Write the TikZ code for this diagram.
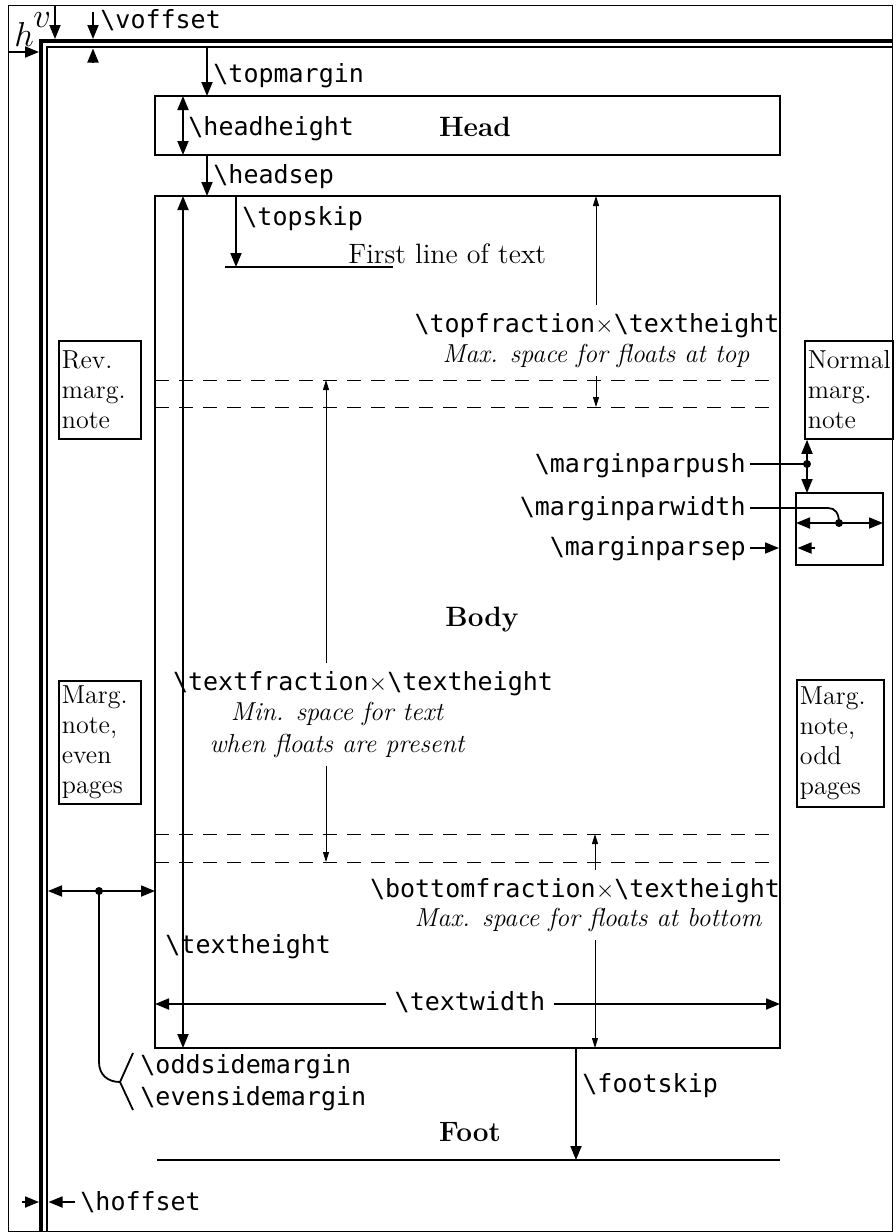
\documentclass[tikz,border=0pt]{standalone}
\usepackage{fontspec}
\setmonofont{DejaVu Sans Mono}
\usetikzlibrary{arrows.meta}
\tikzset{lw/.style={line width=0.9pt},
  arr/.style={lw,-{Triangle[length=7pt,width=5.5pt]}},
  darr/.style={lw,{Triangle[length=7pt,width=5.5pt]}-{Triangle[length=7pt,width=5.5pt]}},
  tarr/.style={line width=0.45pt,-{Triangle[length=5pt,width=3pt]}},
  dashln/.style={line width=0.45pt,dash pattern=on 7pt off 5pt},
  note/.style={draw,lw,align=left,inner sep=1.5pt,anchor=north west,font=\fontsize{13}{15}\selectfont},
  lab/.style={inner sep=2pt},
  bigtxt/.style={font=\fontsize{14}{16}\selectfont},
  boldtxt/.style={font=\fontsize{14}{16}\selectfont\bfseries},
  itl/.style={font=\fontsize{13}{15}\selectfont\itshape,inner sep=4pt}}
\newcommand\lycs[1]{\texttt{\textbackslash#1}}
\begin{document}
\begin{tikzpicture}[x=0.5pt,y=-0.5pt,font=\fontsize{12.5}{15}\selectfont]
\useasboundingbox (0,0) rectangle (895,1232);
% paper, origin and offset lines
\coordinate (pgtl) at (8,5);
\coordinate (pgbr) at (892,1231);
\coordinate (org) at (41,41);
\coordinate (ofs) at (47,47);
\draw[line width=0.5pt] (pgtl) rectangle (pgbr);
\draw[line width=1.8pt] (org |- pgbr) -- (org) -- (pgbr |- org);
\draw[line width=0.6pt] (ofs |- pgbr) -- (ofs) -- (pgbr |- ofs);
\coordinate (vin) at (55,5);
\coordinate (hin) at (8,52);
\draw[arr] (vin) -- ++(0,34);
\draw[arr] (hin) -- ++(31,0);
\node[inner sep=0pt,anchor=base west] (hlab) at (14,46) {\fontsize{16}{18}\selectfont$h$};
\node[inner sep=0pt,anchor=base west] (vlab) at (33,27) {\fontsize{16}{18}\selectfont$v$};
\coordinate (voa) at (93,12);
\coordinate (vob) at (93,62);
\draw[arr] (voa) -- (voa |- 0,39);
\draw[arr] (vob) -- (vob |- 0,48.5);
\node[lab,anchor=base west] (voff) at (96,28) {\lycs{voffset}};
\coordinate (hoa) at (22,1202);
\coordinate (hob) at (75,1202);
\draw[arr] (hoa) -- (39,1202);
\draw[arr] (hob) -- (48.5,1202);
\node[lab,anchor=base west] (hoff) at (76,1210) {\lycs{hoffset}};
% head
\coordinate (htl) at (155,96);
\coordinate (hbr) at (780,155);
\draw[lw] (htl) rectangle (hbr);
\node[boldtxt] (head) at (475,127) {Head};
\coordinate (tmx) at (207,0);
\draw[arr] (tmx |- ofs) -- (tmx |- htl);
\node[lab,anchor=base west] (topm) at (209,82) {\lycs{topmargin}};
\coordinate (hhx) at (183,0);
\draw[darr] (hhx |- htl) -- (hhx |- hbr);
\node[lab,anchor=base west] (hh) at (184,135) {\lycs{headheight}};
\draw[arr] (tmx |- hbr) -- (tmx |- 0,196);
\node[lab,anchor=base west] (hs) at (209,183) {\lycs{headsep}};
% body
\coordinate (btl) at (155,196);
\coordinate (bbr) at (780,1048);
\draw[lw] (btl) rectangle (bbr);
\node[boldtxt] (body) at (482,620) {Body};
\draw[darr] (hhx |- btl) -- (hhx |- bbr);
\node[lab,anchor=base west] (th) at (161,953) {\lycs{textheight}};
\coordinate (tsx) at (236,0);
\coordinate (fl) at (225,267);
\draw[arr] (tsx |- btl) -- (tsx |- fl);
\node[lab,anchor=base west] (ts) at (238,225) {\lycs{topskip}};
\draw[lw] (fl) -- (393,267);
\node[bigtxt,inner sep=2pt,anchor=base west] (first) at (344,263) {First line of text};
% float areas
\foreach \y in {380,407,834,862}
  \draw[dashln] (155,\y) -- (780,\y);
\node[inner sep=4pt,anchor=base] (tf) at (597,332) {\lycs{topfraction}${\times}$\lycs{textheight}};
\node[itl,anchor=base] (tfi) at (596,362) {Max. space for floats at top};
\coordinate (tfx) at (596,407);
\draw[tarr] (tf.north -| tfx) -- (tfx |- btl);
\draw[tarr] (tfi.south -| tfx) -- (tfx);
\node[inner sep=4pt,anchor=base] (xf) at (363,690) {\lycs{textfraction}${\times}$\lycs{textheight}};
\node[itl,inner sep=2pt,anchor=base] (xfi) at (337,720) {Min. space for text};
\node[itl,anchor=base] (xfj) at (337,752) {when floats are present};
\coordinate (xfx) at (326,380);
\draw[tarr] (xf.north -| xfx) -- (xfx);
\draw[tarr] (xfj.south -| xfx) -- (xfx |- 0,862);
\node[inner sep=4pt,anchor=base] (bf) at (575,897) {\lycs{bottomfraction}${\times}$\lycs{textheight}};
\node[itl,anchor=base] (bfi) at (588,926) {Max. space for floats at bottom};
\coordinate (bfx) at (595,834);
\draw[tarr] (bf.north -| bfx) -- (bfx);
\draw[tarr] (bfi.south -| bfx) -- (bfx |- bbr);
% text width
\node[lab,inner sep=4pt,anchor=base] (tw) at (470,1010) {\lycs{textwidth}};
\coordinate (twl) at (155,1004);
\coordinate (twr) at (780,1004);
\draw[arr] (tw.west |- twl) -- (twl);
\draw[arr] (tw.east |- twr) -- (twr);
% side margins
\coordinate (osl) at (48,891);
\coordinate (osd) at (99,891);
\draw[darr] (osl) -- (osl -| btl);
\fill (osd) circle (2pt);
\coordinate (brc) at (120,1082);
\draw[lw] (osd) -- (99,1062) .. controls (99,1075) and (108,1082) .. (brc);
\draw[lw] (133,1053) -- (brc) -- (133,1110);
\node[lab,anchor=base west] (odd) at (136,1073) {\lycs{oddsidemargin}};
\node[lab,anchor=base west] (even) at (136,1105) {\lycs{evensidemargin}};
% foot
\coordinate (fsx) at (576,1160);
\draw[arr] (fsx |- bbr) -- (fsx);
\draw[lw] (157,1160) -- (780,1160);
\node[lab,anchor=base west] (fs) at (578,1092) {\lycs{footskip}};
\node[boldtxt] (foot) at (470,1132) {Foot};
% marginal notes
\node[note,text width=38pt,minimum height=49pt] (revn) at (58,340) {Rev.\\marg.\\note};
\node[note,text width=38pt,minimum height=61.5pt] (evenn) at (58,680) {Marg.\\note,\\even\\pages};
\node[note,text width=41pt,minimum height=49pt] (normn) at (804,340) {Normal\\marg.\\note};
\node[note,text width=40.5pt,minimum height=63.5pt] (oddn) at (796,679) {Marg.\\note,\\odd\\pages};
\coordinate (mwtl) at (796,493);
\coordinate (mwbr) at (883,565);
\draw[lw] (mwtl) rectangle (mwbr);
\node[lab,anchor=base east] (mpp) at (750,472) {\lycs{marginparpush}};
\coordinate (mppd) at (807,464);
\draw[lw] (mpp.east |- mppd) -- (mppd);
\draw[darr] (mppd |- normn.south) -- (mppd |- mwtl);
\fill (mppd) circle (2pt);
\node[lab,anchor=base east] (mpw) at (750,515) {\lycs{marginparwidth}};
\coordinate (mpwk) at (828,508);
\coordinate (mpwd) at (839,523);
\draw[lw] (mpw.east |- mpwk) -- (mpwk) .. controls (835,508) and (839,513) .. (mpwd);
\draw[darr] (mpwd -| mwtl) -- (mpwd -| mwbr);
\fill (mpwd) circle (2pt);
\node[lab,anchor=base east] (mps) at (750,555) {\lycs{marginparsep}};
\coordinate (mpsa) at (779,548);
\coordinate (mpsb) at (815,548);
\draw[arr] (mps.east |- mpsa) -- (mpsa);
\draw[arr] (mpsb) -- (797.5,548);
\end{tikzpicture}
\end{document}
